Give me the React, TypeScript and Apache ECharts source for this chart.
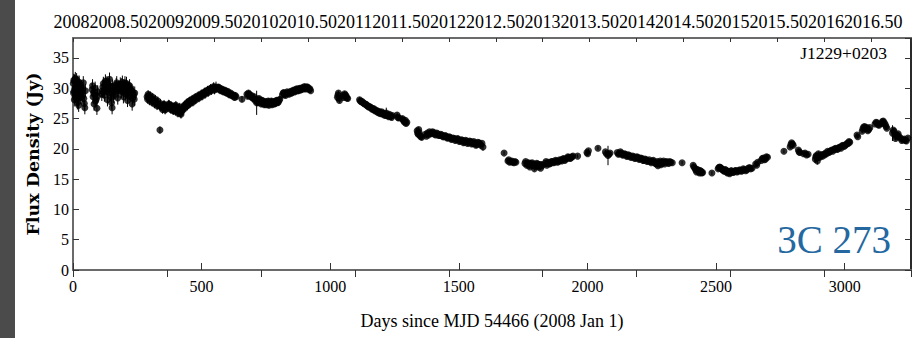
import React, { useEffect, useRef } from "react";
import * as echarts from "echarts";

// Light curve of 3C 273 (J1229+0203): [day since MJD 54466, flux density (Jy), 1-sigma error]
const season2008: number[][] = [
  [1, 30.8, 1.1], [2, 29.2, 1.1], [3, 31.3, 1.1], [4, 29.5, 1.1], [5, 28.1, 1.1], [6, 31.2, 1.1],
  [7, 30.0, 1.1], [8, 28.6, 1.1], [9, 31.6, 1.1], [10, 30.1, 1.1], [11, 28.9, 1.1], [12, 29.0, 1.1],
  [13, 30.6, 1.1], [14, 31.4, 1.1], [15, 29.7, 1.1], [16, 28.2, 1.1], [17, 27.6, 1.1], [18, 30.5, 1.1],
  [19, 31.0, 1.1], [20, 29.8, 1.1], [21, 28.4, 1.1], [22, 27.2, 1.1], [23, 30.3, 1.1], [24, 31.0, 1.1],
  [26, 29.9, 1.1], [28, 29.3, 1.1], [30, 28.5, 1.1], [32, 30.2, 1.1], [34, 29.4, 1.1], [36, 28.8, 1.1],
  [38, 29.9, 1.1], [40, 30.9, 1.1], [42, 28.3, 1.1], [44, 27.5, 1.1], [46, 26.8, 1.1], [48, 29.6, 1.1],
  [74, 29.8, 1.1], [76, 30.4, 1.1], [78, 28.6, 1.1], [80, 29.3, 1.1], [82, 27.4, 1.1], [84, 28.9, 1.1],
  [86, 30.0, 1.1], [88, 27.9, 1.1], [90, 28.2, 1.1], [93, 26.7, 1.1], [95, 28.7, 1.1], [96, 29.4, 1.1],
  [112, 29.0, 1.1], [114, 29.6, 1.1], [116, 30.2, 1.1], [118, 30.8, 1.1], [120, 29.4, 1.1], [122, 28.9, 1.1],
  [124, 30.5, 1.1], [126, 31.2, 1.1], [128, 30.6, 1.1], [130, 29.9, 1.1], [132, 30.9, 1.1], [134, 28.1, 1.1],
  [136, 29.5, 1.1], [138, 30.6, 1.1], [140, 29.8, 1.1], [142, 31.5, 1.1], [144, 30.4, 1.1], [146, 29.2, 1.1],
  [148, 28.5, 1.1], [150, 27.6, 1.1], [152, 26.8, 1.1], [154, 30.3, 1.1], [156, 29.6, 1.1], [158, 28.7, 1.1],
  [162, 29.4, 1.1], [166, 29.9, 1.1], [168, 30.6, 1.1], [170, 30.9, 1.1], [172, 29.7, 1.1], [174, 28.4, 1.1],
  [176, 30.1, 1.1], [178, 29.5, 1.1],
  [184, 30.7, 1.1], [186, 29.9, 1.1], [188, 29.5, 1.1], [190, 30.6, 1.1], [192, 31.0, 1.1], [194, 29.8, 1.1],
  [196, 28.6, 1.1], [198, 29.6, 1.1], [200, 30.2, 1.1], [202, 30.9, 1.1], [204, 29.1, 1.1], [206, 30.1, 1.1],
  [208, 30.8, 1.1], [210, 29.4, 1.1], [212, 28.0, 1.1], [214, 30.0, 1.1], [216, 29.8, 1.1], [218, 28.7, 1.1],
  [220, 30.4, 1.1], [222, 29.9, 1.1], [224, 28.9, 1.1], [226, 29.7, 1.1], [228, 29.5, 1.1], [230, 27.4, 1.1],
  [232, 28.4, 1.1], [234, 29.3, 1.1], [236, 28.8, 1.1], [238, 28.2, 1.1], [240, 29.2, 1.1],
];

const season2009: number[][] = [
  [288, 28.6, 0.7], [290, 28.2, 0.7], [292, 29.0, 0.7], [294, 28.7, 0.7], [296, 28.4, 0.7], [298, 27.9, 0.7],
  [300, 28.8, 0.7], [302, 28.3, 0.7], [305, 28.1, 0.7], [307, 27.7, 0.7], [310, 28.5, 0.7], [312, 28.0, 0.7],
  [315, 27.9, 0.7], [317, 27.4, 0.7], [320, 28.2, 0.7], [322, 27.6, 0.7], [325, 27.6, 0.7], [327, 27.1, 0.7],
  [330, 27.9, 0.7], [332, 27.3, 0.7], [335, 27.2, 0.7], [338, 23.1, 0.6], [340, 27.5, 0.7], [342, 26.9, 0.7],
  [345, 27.0, 0.7], [348, 26.5, 0.7], [350, 26.8, 0.7], [353, 27.3, 0.7], [355, 27.3, 0.7], [358, 26.4, 0.7],
  [360, 26.6, 0.7],
  [370, 26.9, 0.7], [372, 27.4, 0.7], [375, 27.3, 0.7], [378, 26.7, 0.7], [380, 26.5, 0.7], [383, 27.1, 0.7],
  [385, 27.0, 0.7], [388, 26.4, 0.7], [390, 26.3, 0.7], [393, 27.0, 0.7], [395, 26.8, 0.7], [398, 26.2, 0.7],
  [400, 27.2, 0.7], [403, 26.9, 0.7], [405, 26.6, 0.7], [408, 25.9, 0.7], [410, 26.1, 0.7], [413, 26.5, 0.7],
  [415, 26.9, 0.7], [418, 25.9, 0.7], [420, 25.7, 0.7], [423, 26.2, 0.7], [425, 26.4, 0.7], [428, 26.8, 0.7],
  [430, 27.0, 0.7], [433, 27.2, 0.7], [435, 26.7, 0.7], [438, 27.0, 0.7], [440, 27.4, 0.7], [443, 27.6, 0.7],
  [445, 27.1, 0.7], [448, 27.3, 0.7], [450, 27.8, 0.7], [453, 27.9, 0.7], [455, 27.5, 0.7], [458, 27.7, 0.7],
  [460, 28.0, 0.7], [463, 28.2, 0.7], [466, 27.7, 0.7], [469, 28.0, 0.7], [472, 28.3, 0.7], [475, 28.5, 0.7],
  [478, 28.1, 0.7], [481, 28.4, 0.7], [484, 28.6, 0.7], [487, 28.8, 0.7], [490, 28.4, 0.7], [493, 28.7, 0.7],
  [496, 28.9, 0.7], [499, 29.1, 0.7], [502, 28.7, 0.7], [505, 29.0, 0.7], [508, 29.2, 0.7], [511, 29.4, 0.7],
  [514, 29.0, 0.7], [517, 29.3, 0.7], [520, 29.5, 0.7], [523, 29.7, 0.7], [526, 29.3, 0.7], [529, 29.6, 0.7],
  [532, 29.8, 0.7], [535, 30.0, 0.7], [538, 29.6, 0.7], [541, 29.9, 0.7], [544, 30.0, 0.7], [547, 30.3, 0.7],
  [550, 29.7, 0.7], [553, 30.0, 0.7], [556, 30.2, 0.9],
  [562, 29.9, 0.5], [565, 30.2, 0.5], [568, 30.1, 0.5], [571, 29.8, 0.5], [574, 29.6, 0.5], [577, 29.9, 0.5],
  [580, 29.8, 0.5], [583, 29.5, 0.5], [586, 29.4, 0.5], [589, 29.7, 0.5], [592, 29.6, 0.5], [595, 29.3, 0.5],
  [598, 29.2, 0.5], [601, 29.5, 0.5], [604, 29.3, 0.5], [607, 29.0, 0.5], [610, 28.9, 0.5], [613, 29.2, 0.5],
  [616, 29.0, 0.5], [619, 28.8, 0.5], [622, 28.7, 0.5], [625, 28.9, 0.5], [628, 28.5, 0.5], [631, 28.8, 0.5],
  [634, 28.6, 0.5], [657, 28.2, 0.5],
];

const season2010: number[][] = [
  [676, 29.0, 0.5], [679, 28.7, 0.5], [682, 29.2, 0.5], [685, 29.0, 0.5], [688, 28.9, 0.5], [691, 28.6, 0.5],
  [694, 28.8, 0.5], [698, 28.4, 0.5], [702, 28.3, 0.5], [705, 28.6, 0.5], [708, 28.0, 0.5], [711, 28.2, 0.5],
  [714, 27.6, 2.0], [717, 27.9, 0.5], [720, 27.6, 0.5], [723, 28.3, 0.5], [726, 28.1, 0.5], [729, 27.7, 0.5],
  [732, 27.4, 0.5], [735, 28.0, 0.5], [738, 27.9, 0.5], [741, 27.5, 0.5], [744, 27.3, 0.5], [747, 27.7, 0.5],
  [750, 27.8, 0.5], [753, 27.3, 0.5], [756, 27.5, 0.5], [759, 27.9, 0.5], [762, 27.2, 0.5], [765, 27.5, 0.5],
  [768, 27.6, 0.5], [771, 27.9, 0.5], [774, 27.3, 0.5], [777, 27.6, 0.5], [780, 27.8, 0.5], [783, 27.4, 0.5],
  [786, 27.5, 0.5], [789, 27.9, 0.5], [792, 28.0, 0.5], [795, 27.6, 0.5], [798, 27.7, 0.5], [801, 28.0, 0.5],
  [804, 28.2, 0.5],
  [814, 28.9, 0.4], [817, 29.2, 0.4], [820, 29.3, 0.4], [823, 29.0, 0.4], [826, 28.8, 0.4], [829, 29.1, 0.4],
  [832, 29.4, 0.4], [836, 29.2, 0.4], [840, 29.0, 0.4], [843, 29.3, 0.4], [846, 29.5, 0.4], [849, 29.2, 0.4],
  [852, 29.3, 0.4], [855, 29.6, 0.4], [858, 29.7, 0.4], [861, 29.4, 0.4], [864, 29.5, 0.4], [867, 29.8, 0.4],
  [870, 29.9, 0.4], [873, 29.6, 0.4], [876, 29.6, 0.4], [879, 29.9, 0.4], [882, 30.0, 0.4], [885, 29.7, 0.4],
  [888, 29.8, 0.4], [891, 30.1, 0.4], [894, 30.1, 0.4], [897, 29.9, 0.4], [900, 30.3, 0.4], [903, 30.0, 0.4],
  [906, 29.9, 0.4], [909, 30.2, 0.4], [912, 30.2, 0.4], [915, 30.0, 0.4], [918, 29.8, 0.4], [921, 29.9, 0.4],
  [924, 29.6, 0.4],
];

const season2011: number[][] = [
  [1028, 28.5, 0.4], [1030, 28.9, 0.4], [1032, 29.2, 0.4], [1034, 28.3, 0.4], [1036, 28.0, 0.4],
  [1050, 28.8, 0.4], [1053, 28.5, 0.4], [1056, 29.1, 0.4], [1059, 28.9, 0.4], [1062, 28.7, 0.4],
  [1065, 28.4, 0.4], [1068, 28.3, 0.4],
  [1114, 28.1, 0.4], [1117, 27.9, 0.4], [1120, 27.8, 0.4], [1124, 27.8, 0.4], [1128, 27.6, 0.4],
  [1131, 27.5, 0.4], [1134, 27.4, 0.4], [1137, 27.4, 0.4], [1140, 27.3, 0.4], [1143, 27.1, 0.4],
  [1146, 27.1, 0.4], [1149, 26.9, 0.4], [1152, 27.0, 0.4], [1155, 26.9, 0.4], [1158, 26.8, 0.4],
  [1161, 26.6, 0.4], [1164, 26.7, 0.4], [1167, 26.5, 0.4], [1170, 26.6, 0.4], [1173, 26.3, 0.4],
  [1176, 26.4, 0.4], [1179, 26.2, 0.4], [1182, 26.3, 0.4], [1185, 26.0, 0.4], [1188, 26.2, 0.4],
  [1191, 25.9, 0.4], [1194, 26.0, 0.4], [1197, 25.8, 0.4], [1200, 26.1, 0.4], [1203, 25.8, 0.4],
  [1206, 25.9, 0.4], [1209, 25.6, 0.4], [1212, 25.8, 0.4], [1215, 25.5, 0.4], [1218, 25.9, 0.9],
  [1221, 25.5, 0.4], [1224, 25.6, 0.4], [1227, 25.3, 0.4], [1230, 25.7, 0.4], [1233, 25.4, 0.4],
  [1236, 25.4, 0.4], [1239, 25.2, 0.4], [1242, 25.5, 0.4],
  [1260, 25.6, 0.4], [1263, 25.2, 0.4], [1266, 25.1, 0.4], [1280, 25.0, 0.4], [1283, 24.8, 0.4],
  [1286, 24.6, 0.4], [1289, 24.4, 0.4], [1292, 24.7, 0.4], [1295, 24.2, 0.4], [1298, 24.4, 0.4],
];

const season2012: number[][] = [
  [1338, 23.0, 0.4], [1340, 22.6, 0.4], [1342, 22.4, 0.4], [1344, 23.2, 0.4], [1346, 22.7, 0.4],
  [1349, 22.2, 0.4], [1352, 22.0, 0.4], [1356, 21.9, 0.4],
  [1370, 22.4, 0.3], [1374, 22.1, 0.3], [1378, 22.6, 0.3], [1382, 22.3, 0.3], [1386, 22.8, 0.3],
  [1390, 22.6, 0.3], [1394, 22.5, 0.3], [1398, 22.8, 0.3], [1402, 22.7, 0.3], [1406, 22.4, 0.3],
  [1410, 22.3, 0.3], [1414, 22.6, 0.3], [1418, 22.5, 0.3], [1422, 22.2, 0.3], [1426, 22.2, 0.3],
  [1430, 22.4, 0.3], [1434, 22.3, 0.3], [1438, 22.0, 0.3], [1442, 22.0, 0.3], [1446, 22.2, 0.3],
  [1450, 22.1, 0.3], [1454, 21.8, 0.3], [1458, 21.8, 0.3], [1462, 22.0, 0.3], [1466, 21.9, 0.3],
  [1470, 21.6, 0.3], [1474, 21.6, 0.3], [1478, 21.8, 0.3], [1482, 21.7, 0.3], [1486, 21.4, 0.3],
  [1490, 21.5, 0.3], [1494, 21.7, 0.3], [1498, 21.6, 0.3], [1502, 21.2, 0.3], [1506, 21.3, 0.3],
  [1510, 21.5, 0.3], [1514, 21.4, 0.3], [1518, 21.0, 0.3], [1522, 21.1, 0.3], [1526, 21.4, 0.3],
  [1530, 21.3, 0.3], [1534, 20.9, 0.3], [1538, 21.0, 0.3], [1542, 21.3, 0.3], [1546, 21.2, 0.3],
  [1550, 20.8, 0.3], [1554, 20.9, 0.3], [1558, 21.2, 0.3], [1562, 21.0, 0.3], [1566, 20.6, 0.3],
  [1570, 20.7, 0.3], [1574, 21.1, 0.3], [1578, 21.0, 0.3], [1582, 20.8, 0.3], [1586, 20.6, 0.3],
  [1590, 20.9, 0.3], [1594, 20.3, 0.6],
];

const season2013: number[][] = [
  [1676, 19.3, 0.3], [1691, 18.0, 0.3], [1694, 18.2, 0.3], [1698, 17.8, 0.3], [1702, 17.9, 0.3],
  [1706, 18.0, 0.3], [1710, 17.8, 0.3], [1714, 17.7, 0.3], [1718, 17.9, 0.3], [1722, 17.8, 0.3],
  [1757, 17.6, 0.3], [1760, 17.9, 0.3], [1764, 17.3, 0.3], [1767, 17.5, 0.3], [1770, 17.7, 0.3],
  [1773, 17.3, 0.3], [1776, 17.0, 0.3], [1779, 17.6, 0.3], [1782, 17.4, 0.3], [1785, 17.7, 0.3],
  [1788, 17.2, 0.3], [1791, 17.5, 0.3], [1794, 16.7, 0.3], [1797, 17.3, 0.3], [1800, 17.1, 0.3],
  [1803, 17.6, 0.3], [1806, 17.5, 0.3], [1809, 17.2, 0.3], [1812, 17.0, 0.3], [1815, 17.4, 0.3],
  [1818, 16.8, 0.3], [1821, 17.4, 0.3], [1824, 17.2, 0.3], [1836, 17.6, 0.3], [1839, 17.9, 0.3],
  [1842, 17.3, 0.3], [1845, 17.6, 0.3], [1848, 17.8, 0.3], [1852, 17.5, 0.3], [1856, 17.6, 0.3],
  [1860, 17.9, 0.3], [1864, 17.9, 0.3], [1868, 17.7, 0.3], [1872, 17.8, 0.3], [1876, 18.1, 0.3],
  [1880, 18.0, 0.3], [1884, 17.8, 0.3], [1888, 17.9, 0.3], [1892, 18.2, 0.3], [1896, 18.1, 0.3],
  [1900, 18.0, 0.3], [1904, 18.3, 0.3], [1908, 18.4, 0.3], [1912, 18.1, 0.3], [1916, 18.3, 0.3],
  [1920, 18.4, 0.3], [1924, 18.7, 0.3], [1928, 18.6, 0.3], [1932, 18.4, 0.3], [1936, 18.5, 0.3],
  [1940, 18.7, 0.3], [1944, 18.8, 0.3], [1962, 18.8, 0.3], [1998, 19.4, 0.3], [2001, 19.2, 0.3],
  [2004, 19.7, 0.3], [2041, 20.1, 0.3],
];

const season2014: number[][] = [
  [2070, 19.5, 0.3], [2074, 19.2, 0.3], [2080, 18.9, 1.6], [2084, 19.1, 0.3], [2088, 19.3, 0.3],
  [2116, 19.4, 0.3], [2120, 19.1, 0.3], [2124, 19.2, 0.3], [2128, 19.5, 0.3], [2132, 19.3, 0.3],
  [2136, 19.0, 0.3], [2140, 19.0, 0.3], [2144, 19.2, 0.3], [2148, 19.1, 0.3], [2152, 18.8, 0.3],
  [2156, 18.8, 0.3], [2160, 19.0, 0.3], [2164, 18.9, 0.3], [2168, 18.6, 0.3], [2172, 18.6, 0.3],
  [2176, 18.8, 0.3], [2180, 18.7, 0.3], [2184, 18.4, 0.3], [2188, 18.5, 0.3], [2192, 18.7, 0.3],
  [2196, 18.6, 0.3], [2200, 18.3, 0.3], [2204, 18.3, 0.3], [2208, 18.5, 0.3], [2212, 18.4, 0.3],
  [2216, 18.1, 0.3], [2220, 18.1, 0.3], [2224, 18.3, 0.3], [2228, 18.2, 0.3], [2232, 17.9, 0.3],
  [2236, 18.0, 0.3], [2240, 18.2, 0.3], [2244, 17.9, 0.3], [2248, 17.7, 0.3], [2252, 18.0, 0.3],
  [2256, 18.1, 0.3], [2260, 17.8, 0.3], [2264, 17.6, 0.3], [2268, 17.5, 0.3], [2271, 17.9, 0.3],
  [2274, 17.2, 0.3], [2277, 17.5, 0.3], [2280, 17.7, 0.3], [2283, 18.0, 0.3], [2286, 17.4, 0.3],
  [2289, 17.6, 0.3], [2292, 17.8, 0.3], [2296, 18.0, 0.3], [2300, 17.5, 0.3], [2304, 17.8, 0.3],
  [2308, 17.9, 0.3], [2312, 17.7, 0.3], [2316, 17.6, 0.3], [2320, 17.9, 0.3], [2324, 17.8, 0.3],
  [2330, 17.7, 0.3], [2368, 17.7, 0.3],
];

const season2015: number[][] = [
  [2411, 17.3, 0.3], [2414, 17.0, 0.3], [2418, 16.8, 0.3], [2421, 16.5, 0.3], [2424, 16.2, 0.3],
  [2427, 16.6, 0.3], [2430, 16.5, 0.3], [2433, 16.2, 0.3], [2436, 16.0, 0.3], [2439, 16.4, 0.3],
  [2442, 16.3, 0.3], [2445, 16.0, 0.3], [2448, 16.1, 0.3], [2484, 16.0, 0.3], [2508, 16.7, 0.3],
  [2511, 16.9, 0.3], [2514, 17.0, 0.3], [2517, 16.9, 0.3], [2520, 16.8, 0.3], [2523, 16.6, 0.3],
  [2526, 16.6, 0.3], [2529, 16.4, 0.3], [2532, 16.3, 0.3], [2535, 16.6, 0.3], [2538, 16.5, 0.3],
  [2541, 16.2, 0.3], [2544, 16.0, 0.3], [2547, 16.3, 0.3], [2550, 16.2, 0.3], [2553, 15.9, 0.3],
  [2556, 16.1, 0.3], [2559, 16.4, 0.3], [2562, 16.3, 0.3], [2566, 16.1, 0.3], [2570, 16.2, 0.3],
  [2574, 16.4, 0.3], [2578, 16.4, 0.3], [2582, 16.2, 0.3], [2586, 16.3, 0.3], [2590, 16.5, 0.3],
  [2594, 16.5, 0.3], [2598, 16.3, 0.3], [2602, 16.4, 0.3], [2606, 16.7, 0.3], [2610, 16.6, 0.3],
  [2615, 16.4, 0.3], [2620, 16.5, 0.3], [2625, 16.8, 0.3], [2630, 16.9, 0.3], [2635, 16.7, 0.3],
  [2640, 16.8, 0.3], [2654, 17.5, 0.3], [2658, 17.3, 0.3], [2662, 17.8, 0.3], [2676, 18.1, 0.3],
  [2680, 18.4, 0.3], [2684, 18.5, 0.3], [2688, 18.2, 0.3], [2692, 18.3, 0.3], [2696, 18.7, 0.3],
  [2700, 18.6, 0.3],
];

const season2016: number[][] = [
  [2764, 19.6, 0.3], [2788, 20.3, 0.3], [2791, 20.7, 0.3], [2794, 21.0, 0.3], [2797, 20.8, 0.3],
  [2800, 20.6, 0.3], [2820, 19.8, 0.3], [2823, 19.5, 0.3], [2826, 19.4, 0.3], [2840, 19.2, 0.3],
  [2846, 19.3, 0.3], [2852, 19.0, 0.3], [2858, 19.1, 0.3], [2886, 18.3, 0.6], [2888, 18.7, 0.4],
  [2890, 18.9, 0.4], [2892, 18.5, 0.4], [2894, 18.0, 0.6], [2896, 18.6, 0.4], [2898, 19.2, 0.4],
  [2901, 18.8, 0.4], [2904, 18.6, 0.4], [2907, 18.9, 0.3], [2910, 19.0, 0.3], [2914, 18.8, 0.3],
  [2918, 19.1, 0.3], [2922, 19.0, 0.3], [2926, 19.3, 0.3], [2930, 19.2, 0.3], [2934, 19.6, 0.3],
  [2938, 19.4, 0.3], [2942, 19.5, 0.3], [2946, 19.7, 0.3], [2950, 19.8, 0.3], [2954, 19.6, 0.3],
  [2958, 19.9, 0.3], [2962, 20.0, 0.3], [2966, 20.1, 0.3], [2970, 19.9, 0.3], [2974, 20.0, 0.3],
  [2978, 20.2, 0.3], [2982, 20.3, 0.3], [2986, 20.1, 0.3], [2990, 20.5, 0.3], [2994, 20.6, 0.3],
  [2998, 20.4, 0.3], [3002, 20.6, 0.3], [3006, 20.7, 0.3], [3010, 20.9, 0.3], [3014, 20.9, 0.3],
  [3017, 21.2, 0.3], [3020, 21.1, 0.3], [3048, 22.3, 0.3], [3051, 22.0, 0.3], [3068, 22.9, 0.3],
  [3071, 23.3, 0.3], [3074, 23.6, 0.3], [3078, 23.7, 0.3], [3082, 23.3, 0.3], [3086, 23.5, 0.3],
  [3090, 23.0, 0.3], [3094, 23.2, 0.3], [3098, 23.5, 0.3], [3118, 24.1, 0.3], [3122, 24.4, 0.3],
  [3126, 24.3, 0.3], [3130, 24.0, 0.3], [3134, 23.9, 0.3], [3144, 24.2, 0.3], [3147, 24.5, 0.3],
  [3150, 24.6, 0.3], [3154, 24.3, 0.3], [3158, 24.0, 0.3], [3161, 23.7, 0.3], [3164, 23.4, 0.3],
  [3186, 22.6, 1.3], [3189, 23.1, 0.3], [3192, 22.9, 0.3], [3195, 22.4, 0.3], [3198, 21.7, 0.3],
  [3201, 22.0, 0.3], [3204, 22.3, 0.3], [3208, 22.5, 0.3], [3212, 22.0, 0.3], [3217, 21.8, 0.3],
  [3222, 21.4, 0.3], [3227, 21.5, 0.3], [3232, 21.6, 0.3], [3236, 21.4, 0.3], [3240, 21.3, 0.3],
  [3246, 21.8, 0.3],
];

const seasons = [
  season2008, season2009, season2010, season2011, season2012,
  season2013, season2014, season2015, season2016,
];

const yearLabels = [
  "2008", "2008.50", "2009", "2009.50", "2010", "2010.50", "2011", "2011.50", "2012",
  "2012.50", "2013", "2013.50", "2014", "2014.50", "2015", "2015.50", "2016", "2016.50",
];

const sourceName = "J1229+0203";
const commonName = "3C 273";
const xTitle = "Days since MJD 54466 (2008 Jan 1)";
const yTitle = "Flux Density (Jy)";

const X_MAX = 3258;
const Y_MAX = 38.3;
const DAYS_PER_YEAR = 365.25;

const SERIF = "Liberation Serif";
const WIDE_SERIF = "DejaVu Serif";

export default function App() {
  const ref = useRef<HTMLDivElement>(null);

  useEffect(() => {
    if (!ref.current) return;
    const chart = echarts.init(ref.current, undefined, { renderer: "svg" });
    const points = seasons.flat();

    const frameGray = "#6a6a6a";
    const plain = (v: number) => String(v);

    chart.setOption({
      animation: false,
      backgroundColor: "#ffffff",
      grid: { left: 73, right: 7, top: 38, bottom: 68 },
      xAxis: [
        {
          type: "value",
          position: "bottom",
          min: 0,
          max: X_MAX,
          interval: 500,
          name: xTitle,
          nameLocation: "middle",
          nameGap: 42,
          nameTextStyle: { fontFamily: SERIF, fontSize: 18, color: "#000" },
          axisLine: { show: true, onZero: false, lineStyle: { color: frameGray, width: 2 } },
          axisTick: { show: true, inside: true, length: 7, lineStyle: { color: "#333", width: 1 } },
          axisLabel: {
            fontFamily: SERIF, fontSize: 16, color: "#000", margin: 8,
            showMaxLabel: false, formatter: plain,
          },
          splitLine: { show: false },
        },
        {
          // half-year ticks along the top edge
          type: "value",
          position: "top",
          min: 0,
          max: X_MAX,
          interval: DAYS_PER_YEAR / 2,
          axisLine: { show: true, onZero: false, lineStyle: { color: frameGray, width: 2 } },
          axisTick: { show: true, inside: true, length: 4, lineStyle: { color: "#333", width: 1 } },
          axisLabel: { show: false },
          splitLine: { show: false },
        },
        {
          // full-year ticks along the top edge
          type: "value",
          position: "top",
          min: 0,
          max: X_MAX,
          interval: DAYS_PER_YEAR,
          axisLine: { show: false },
          axisTick: { show: true, inside: true, length: 7, lineStyle: { color: "#333", width: 1 } },
          axisLabel: { show: false },
          splitLine: { show: false },
        },
      ],
      yAxis: [
        {
          type: "value",
          position: "left",
          min: 0,
          max: Y_MAX,
          interval: 5,
          name: yTitle,
          nameLocation: "middle",
          nameGap: 30,
          nameRotate: 90,
          nameTextStyle: { fontFamily: WIDE_SERIF, fontSize: 17.5, fontWeight: "bold", color: "#000" },
          axisLine: { show: true, onZero: false, lineStyle: { color: frameGray, width: 2 } },
          axisTick: { show: true, inside: true, length: 6, lineStyle: { color: "#333", width: 1 } },
          axisLabel: {
            fontFamily: SERIF, fontSize: 16, color: "#000", margin: 4,
            showMaxLabel: false, formatter: plain,
          },
          splitLine: { show: false },
        },
        {
          type: "value",
          position: "right",
          min: 0,
          max: Y_MAX,
          interval: 5,
          axisLine: { show: true, onZero: false, lineStyle: { color: "#2a2a2a", width: 2 } },
          axisTick: { show: true, inside: true, length: 6, lineStyle: { color: "#333", width: 1 } },
          axisLabel: { show: false },
          splitLine: { show: false },
        },
      ],
      graphic: [
        {
          type: "rect",
          shape: { x: 0, y: 0, width: 15, height: 338 },
          style: { fill: "#4b4b4b" },
          z: 100,
        },
        {
          type: "text",
          x: 478,
          y: 22,
          style: {
            text: yearLabels.join(""),
            fontFamily: SERIF,
            fontSize: 18,
            fill: "#000",
            align: "center",
            verticalAlign: "middle",
          },
        },
        {
          type: "text",
          x: 887,
          y: 53,
          style: {
            text: sourceName,
            fontFamily: SERIF,
            fontSize: 17.5,
            fill: "#000",
            align: "right",
            verticalAlign: "middle",
          },
          z: 50,
        },
        {
          type: "text",
          x: 891,
          y: 239,
          style: {
            text: commonName,
            fontFamily: SERIF,
            fontSize: 39,
            fill: "#24689f",
            align: "right",
            verticalAlign: "middle",
          },
          z: 50,
        },
      ],
      series: [
        {
          type: "custom",
          name: "error",
          xAxisIndex: 0,
          yAxisIndex: 0,
          data: points,
          renderItem: (_params: any, api: any) => {
            const x = api.value(0);
            const y = api.value(1);
            const e = api.value(2);
            const lo = api.coord([x, y - e]);
            const hi = api.coord([x, y + e]);
            return {
              type: "line",
              shape: { x1: lo[0], y1: lo[1], x2: hi[0], y2: hi[1] },
              style: { stroke: "#000", lineWidth: 1 },
            };
          },
          z: 2,
        },
        {
          type: "scatter",
          name: "flux",
          xAxisIndex: 0,
          yAxisIndex: 0,
          data: points.map((p) => [p[0], p[1]]),
          symbol: "circle",
          symbolSize: 7,
          itemStyle: { color: "#000" },
          z: 3,
        },
      ],
    });

    return () => chart.dispose();
  }, []);

  return (
    <div
      ref={ref}
      style={{ position: "fixed", left: 0, top: 0, width: 918, height: 338 }}
    />
  );
}
